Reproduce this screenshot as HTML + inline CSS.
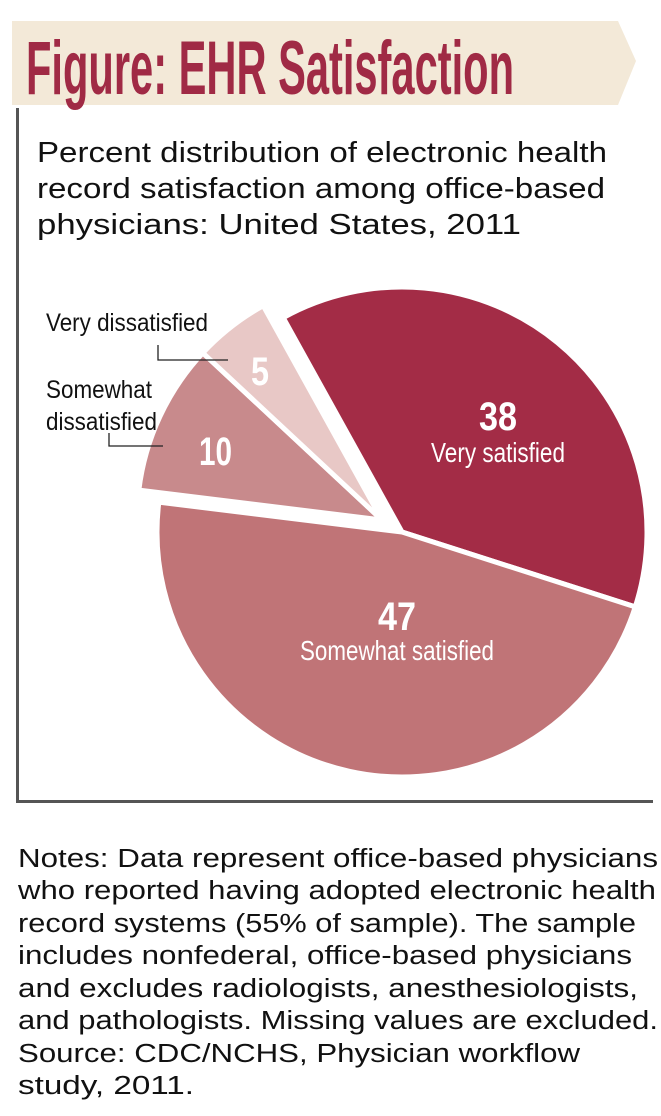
<!DOCTYPE html>
<html><head><meta charset="utf-8"><style>
body{margin:0;width:661px;height:1116px;background:#fff;overflow:hidden;position:relative;font-family:"Liberation Sans",sans-serif}
</style></head><body>
<svg width="661" height="1116" style="position:absolute;left:0;top:0">
<polygon points="12,21 618,21 636,61 618,105 12,105" fill="#f3e9d8"/>
<text x="26" y="94" font-family="Liberation Sans, sans-serif" font-weight="bold" font-size="76" fill="#a02a45" textLength="488" lengthAdjust="spacingAndGlyphs">Figure: EHR Satisfaction</text>
<rect x="16" y="108" width="3" height="694" fill="#555"/>
<rect x="16" y="800" width="637" height="3" fill="#555"/>
<g font-family="Liberation Sans, sans-serif" font-size="29" fill="#111" lengthAdjust="spacingAndGlyphs">
<text x="37" y="162" textLength="570" lengthAdjust="spacingAndGlyphs">Percent distribution of electronic health</text>
<text x="37" y="198" textLength="568" lengthAdjust="spacingAndGlyphs">record satisfaction among office-based</text>
<text x="37" y="234" textLength="484" lengthAdjust="spacingAndGlyphs">physicians: United States, 2011</text>
</g>
<g id="pie"></g>
<polyline points="158,345 158,360 228,360" fill="none" stroke="#222" stroke-width="1.3"/>
<polyline points="109,433 109,446 163,446" fill="none" stroke="#222" stroke-width="1.3"/>
<g font-family="Liberation Sans, sans-serif" font-size="25" fill="#111">
<text x="46" y="331" textLength="162" lengthAdjust="spacingAndGlyphs">Very dissatisfied</text>
<text x="46" y="398" textLength="106" lengthAdjust="spacingAndGlyphs">Somewhat</text>
<text x="46" y="430" textLength="111" lengthAdjust="spacingAndGlyphs">dissatisfied</text>
</g>
<g font-family="Liberation Sans, sans-serif" fill="#fff">
<text x="479" y="430" font-size="40" font-weight="bold" textLength="38" lengthAdjust="spacingAndGlyphs">38</text>
<text x="431" y="462" font-size="28" textLength="134" lengthAdjust="spacingAndGlyphs">Very satisfied</text>
<text x="378" y="630" font-size="40" font-weight="bold" textLength="38" lengthAdjust="spacingAndGlyphs">47</text>
<text x="300" y="660" font-size="28" textLength="194" lengthAdjust="spacingAndGlyphs">Somewhat satisfied</text>
<text x="199" y="465" font-size="40" font-weight="bold" textLength="33" lengthAdjust="spacingAndGlyphs">10</text>
<text x="251" y="385" font-size="40" font-weight="bold" textLength="18" lengthAdjust="spacingAndGlyphs">5</text>
</g>
<g font-family="Liberation Sans, sans-serif" font-size="25.5" fill="#111">
<text x="18" y="867" textLength="640" lengthAdjust="spacingAndGlyphs">Notes: Data represent office-based physicians</text>
<text x="18" y="899" textLength="638" lengthAdjust="spacingAndGlyphs">who reported having adopted electronic health</text>
<text x="18" y="932" textLength="618" lengthAdjust="spacingAndGlyphs">record systems (55% of sample). The sample</text>
<text x="18" y="964" textLength="614" lengthAdjust="spacingAndGlyphs">includes nonfederal, office-based physicians</text>
<text x="18" y="997" textLength="620" lengthAdjust="spacingAndGlyphs">and excludes radiologists, anesthesiologists,</text>
<text x="18" y="1029" textLength="640" lengthAdjust="spacingAndGlyphs">and pathologists. Missing values are excluded.</text>
<text x="18" y="1062" textLength="562" lengthAdjust="spacingAndGlyphs">Source: CDC/NCHS, Physician workflow</text>
<text x="18" y="1094" textLength="176" lengthAdjust="spacingAndGlyphs">study, 2011.</text>
</g>
</svg>
<script>
const categories=["Very satisfied","Somewhat satisfied","Somewhat dissatisfied","Very dissatisfied"];
const values=[38,47,10,5];
const colors=["#a32c46","#c07477","#c88a8c","#e8c8c6"];
const exploded=[false,false,true,true];
const g=document.getElementById('pie');
const cx=402,cy=532,r=245,start=-29;
const total=values.reduce((a,b)=>a+b,0);
let a=start;
function pt(x,y,deg,rad){const t=deg*Math.PI/180;return [x+rad*Math.sin(t),y-rad*Math.cos(t)];}
values.forEach((v,i)=>{
  const sweep=v/total*360;
  let x=cx,y=cy;
  if(exploded[i]){x-=20;y-=12;}
  const p1=pt(x,y,a,r),p2=pt(x,y,a+sweep,r);
  const p=document.createElementNS('http://www.w3.org/2000/svg','path');
  p.setAttribute('d',`M${x},${y}L${p1[0]},${p1[1]}A${r},${r} 0 ${sweep>180?1:0} 1 ${p2[0]},${p2[1]}Z`);
  p.setAttribute('fill',colors[i]);
  p.setAttribute('stroke','#fff');
  p.setAttribute('stroke-width','5');
  
  
  g.appendChild(p);
  a+=sweep;
});
</script>
</body></html>
